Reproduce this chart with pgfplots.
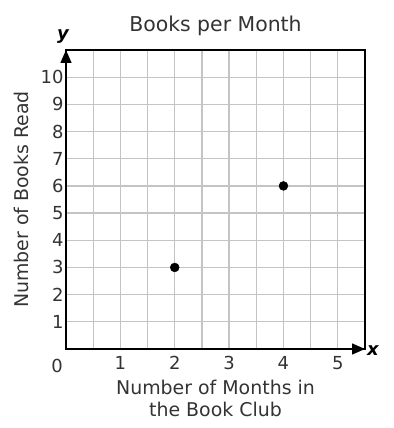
\documentclass[border=0pt]{standalone}
\usepackage{pgfplots}
\pgfplotsset{compat=1.18}
\usepackage{fontspec}
\setmainfont{DejaVu Sans}
\usetikzlibrary{arrows.meta}
\definecolor{txt}{HTML}{333333}
\definecolor{gridc}{HTML}{C4C4C4}
\begin{document}
\begin{tikzpicture}[x=1bp,y=1bp]
\begin{axis}[
  name=ax,
  at={(0,0)}, anchor=south west,
  scale only axis,
  width=299bp, height=299bp,
  xmin=0, xmax=5.5, ymin=0, ymax=11,
  xtick={1,2,3,4,5}, ytick={1,2,...,10},
  minor xtick={0.5,1.5,2.5,3.5,4.5},
  grid=both,
  major grid style={gridc, line width=1.2pt},
  minor grid style={gridc, line width=1.2pt},
  axis line style={black, line width=1.5pt},
  tick style={draw=none},
  ticklabel style={font=\fontsize{18}{19}\selectfont, text=txt},
  /pgf/number format/assume math mode=true,
  xticklabel style={yshift=-4pt},
  yticklabel style={xshift=1pt},
  title={Books per Month},
  title style={font=\fontsize{20.5}{22}\selectfont, text=txt, yshift=5pt},
  xlabel={Number of Months in\\the Book Club},
  xlabel style={font=\fontsize{19}{22}\selectfont, text=txt, align=center, yshift=-3pt},
  ylabel={Number of Books Read},
  ylabel style={font=\fontsize{19}{22}\selectfont, text=txt, yshift=5pt},
  clip=false,
]
\addplot[only marks, mark=*, mark size=4.5pt, black] coordinates {(2,3) (4,6)};
\end{axis}
% axis arrows
\draw[line width=1.5pt, -{Triangle[length=13pt,width=11pt]}] (0,0) -- (0,299);
\draw[line width=1.5pt, -{Triangle[length=13pt,width=11pt]}] (0,0) -- (299,0);
\node[font=\fontsize{18}{18}\selectfont\bfseries\itshape] at (-3,312) {y};
\node[font=\fontsize{18}{18}\selectfont\bfseries\itshape] at (307,-2) {x};
\node[font=\fontsize{18}{19}\selectfont, text=txt] at (-9,-17) {0};
\pgfresetboundingbox
\path (-66,-79) rectangle (328,349);
\end{tikzpicture}
\end{document}
